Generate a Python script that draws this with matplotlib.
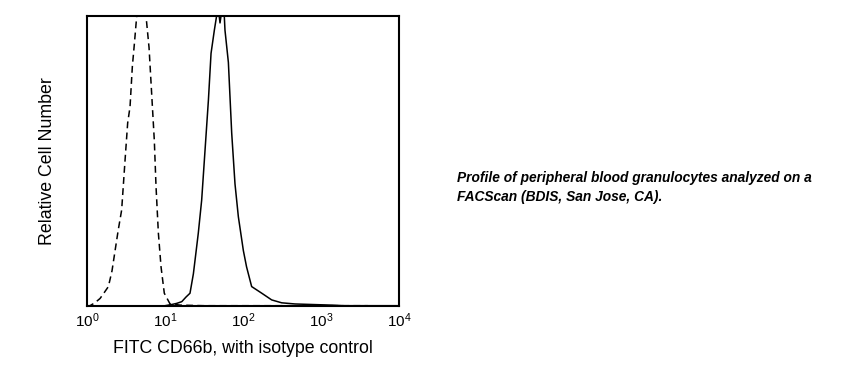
import matplotlib
matplotlib.use("Agg")
import matplotlib.pyplot as plt

plt.rcParams['font.family'] = ['Liberation Sans', 'DejaVu Sans']
plt.rcParams['mathtext.fontset'] = 'custom'
plt.rcParams['mathtext.rm'] = 'Liberation Sans'

# Isotype control (dashed) histogram: fluorescence value, relative count
iso_x = [1.0, 1.09, 1.26, 1.47, 1.66, 1.88, 2.09, 2.29, 2.51, 2.78, 3.07, 3.32, 3.56,
         3.81, 4.05, 4.34, 4.68, 5.01, 5.37, 5.70, 6.24, 6.89, 7.29, 7.67, 8.22, 8.89,
         9.79, 11.6, 15.8, 31.6, 100, 1000, 3981]
iso_y = [0.0, 0.0, 0.01, 0.025, 0.045, 0.066, 0.12, 0.19, 0.26, 0.33, 0.50, 0.63, 0.686,
         0.824, 0.904, 1.0, 1.08, 1.10, 1.06, 1.0, 0.89, 0.686, 0.57, 0.41, 0.25, 0.134,
         0.043, 0.006, 0.002, 0.0, 0.0, 0.0, 0.0]

# FITC CD66b (solid) histogram
cd_x = [10, 11.0, 12.6, 14.1, 16.4, 18.6, 20.9, 23.1, 25.1, 26.7, 29.5, 32.6, 36.0,
        38.9, 42.9, 45.9, 47.9, 50.7, 54.3, 57.5, 58.7, 64.9, 71.6, 78.9, 87.1, 101,
        111, 129, 174, 233, 313, 465, 1380, 1995, 10000]
cd_y = [0.0, 0.002, 0.005, 0.008, 0.014, 0.03, 0.043, 0.11, 0.19, 0.25, 0.364, 0.537,
        0.709, 0.87, 0.95, 1.0, 1.03, 0.975, 1.03, 1.0, 0.95, 0.839, 0.595, 0.42, 0.307,
        0.19, 0.134, 0.066, 0.043, 0.02, 0.01, 0.006, 0.002, 0.0, 0.0]

tick_vals = [1, 10, 100, 1000, 10000]
tick_labels = [r'$\mathregular{10^{0}}$', r'$\mathregular{10^{1}}$', r'$\mathregular{10^{2}}$',
               r'$\mathregular{10^{3}}$', r'$\mathregular{10^{4}}$']

fig = plt.figure(figsize=(8.65, 3.73), dpi=100)
fig.patch.set_facecolor('white')
ax = fig.add_axes([0.1006, 0.1804, 0.3607, 0.7776])

ax.plot(iso_x, iso_y, color='black', lw=1.1, linestyle=(0, (4.5, 2.8)))
ax.plot(cd_x, cd_y, color='black', lw=1.1)

ax.set_xscale('log')
ax.set_xlim(1, 10000)
ax.set_ylim(0, 1.0)
ax.set_xticks(tick_vals)
ax.set_xticklabels(tick_labels, fontsize=11)
ax.minorticks_off()
ax.tick_params(axis='x', length=0, pad=4)
ax.set_yticks([])
for s in ax.spines.values():
    s.set_linewidth(1.5)

ax.set_xlabel('FITC CD66b, with isotype control', fontsize=12.8, labelpad=7)
ax.set_ylabel('Relative Cell Number', fontsize=12.8, labelpad=22)

fig.text(0.528, 0.497, 'Profile of peripheral blood granulocytes analyzed on a\nFACScan (BDIS, San Jose, CA).',
         fontsize=9.9, fontweight='bold', fontstyle='italic', ha='left', va='center',
         linespacing=1.5)

fig.savefig('out.png', dpi=100)
